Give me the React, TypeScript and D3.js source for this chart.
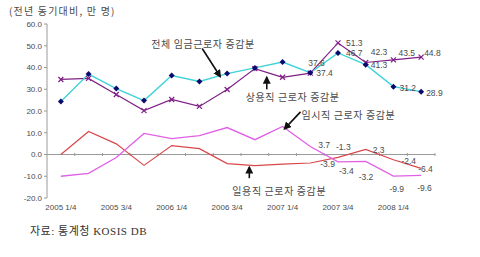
import * as React from "react";
import * as d3 from "d3";

// quarterly change vs. same quarter of previous year (10k persons)
const quarters = [
  "2005 1/4", "2005 2/4", "2005 3/4", "2005 4/4",
  "2006 1/4", "2006 2/4", "2006 3/4", "2006 4/4",
  "2007 1/4", "2007 2/4", "2007 3/4", "2007 4/4",
  "2008 1/4", "2008 2/4",
];
const totalWage = [24.4, 37.0, 30.3, 24.8, 36.3, 33.6, 37.2, 39.8, 42.5, 37.6, 46.7, 41.3, 31.2, 28.9];
const regular = [34.5, 35.0, 27.6, 20.2, 25.3, 22.1, 29.9, 39.5, 35.5, 37.4, 51.3, 42.3, 43.5, 44.8];
const temporary = [-10.0, -8.7, -1.4, 9.7, 7.3, 8.7, 12.4, 6.8, 12.9, 3.7, -3.4, -3.2, -9.9, -9.6];
const daily = [0.0, 10.6, 4.9, -5.0, 4.1, 2.7, -4.2, -5.1, -4.4, -3.9, -1.3, 2.3, -2.4, -6.4];

const xTickLabels = ["2005 1/4", "2005 3/4", "2006 1/4", "2006 3/4", "2007 1/4", "2007 3/4", "2008 1/4"];
const yTickValues = [-20, -10, 0, 10, 20, 30, 40, 50, 60];

// value labels on the last five quarters: [index, dx, dy]
const totalLabelOffsets: [number, number, number][] = [[9, -2, -7], [10, 8, 3], [11, 5, 3], [12, 6, 4], [13, 5, 4]];
const regularLabelOffsets: [number, number, number][] = [[9, 6, 3], [10, 8, 3], [11, 5, -7], [12, 5, -4], [13, 3, -1]];
const temporaryLabelOffsets: [number, number, number][] = [[9, 8, 2], [10, 1, 12], [11, -7, 19], [12, -4, 16], [13, -4, 16]];
const dailyLabelOffsets: [number, number, number][] = [[9, 10, 4], [10, -2, -7], [11, 7, 4], [12, 8, 4], [13, -3, 4]];

const W = 480;
const H = 257;
const NUM_FONT = "'Liberation Sans', 'Noto Sans CJK KR', sans-serif";
const KR_FONT = "'Noto Sans CJK KR', sans-serif";

const COLORS = {
  total: "#3fd3d8",
  totalMarker: "#0a0a6e",
  regular: "#7f1f86",
  temporary: "#e060e6",
  daily: "#d9474a",
  axis: "#9a9a9a",
  text: "#4a4a4a",
};

export default function App() {
  const x = d3.scaleBand<string>().domain(quarters).range([47, 435]).padding(0);
  const cx = (i: number) => (x(quarters[i]) ?? 0) + x.bandwidth() / 2;
  const y = d3.scaleLinear().domain([-20, 60]).range([198, 24]);

  const line = d3
    .line<number>()
    .x((_, i) => cx(i))
    .y((v) => y(v));

  // point on a series at a fractional index, for annotation arrows
  const along = (vals: number[], t: number) => {
    const i = Math.floor(t);
    const f = t - i;
    const v = vals[i] + (vals[Math.min(i + 1, vals.length - 1)] - vals[i]) * f;
    return { px: cx(i) + f * x.bandwidth(), py: y(v) };
  };

  const annotations = [
    { text: "전체 임금근로자 증감분", vals: totalWage, t: 5.75, tipDy: 1, tail: [-18, -28], tx: -69, ty: -29 },
    { text: "상용직 근로자 증감분", vals: regular, t: 7.43, tipDy: 5, tail: [0, 12], tx: -21, ty: 24 },
    { text: "임시직 근로자 증감분", vals: temporary, t: 8.07, tipDy: 1, tail: [16, -17], tx: 17, ty: -10 },
    { text: "일용직 근로자 증감분", vals: daily, t: 6.8, tipDy: 2, tail: [0, 11], tx: -17, ty: 28 },
  ];

  const zeroY = y(0);
  const [x0, x1] = x.range();

  const valueLabels = (vals: number[], offs: [number, number, number][], key: string) =>
    offs.map(([i, dx, dy]) => (
      <text
        key={`${key}-${i}`}
        x={cx(i) + dx}
        y={y(vals[i]) + dy}
        fontFamily={NUM_FONT}
        fontSize={8.5}
        fill={COLORS.text}
      >
        {vals[i].toFixed(1)}
      </text>
    ));

  return (
    <svg
      width={W}
      height={H}
      style={{ position: "absolute", left: 0, top: 0, background: "#fff" }}
    >
      <defs>
        <marker id="arrowHead" viewBox="0 0 10 10" refX="8" refY="5" markerWidth="5" markerHeight="5" orient="auto">
          <path d="M0,0 L10,5 L0,10 z" fill="#111" />
        </marker>
      </defs>

      {/* unit caption */}
      <text x={9} y={15} fontFamily={KR_FONT} fontSize={10} fill={COLORS.text} letterSpacing={1.2}>
        (전년 동기대비, 만 명)
      </text>

      {/* y axis */}
      <line x1={x0} x2={x0} y1={y(60)} y2={y(-20)} stroke={COLORS.axis} strokeWidth={1} />
      {yTickValues.map((t) => (
        <g key={`yt-${t}`}>
          <line x1={x0 - 3} x2={x0} y1={y(t)} y2={y(t)} stroke={COLORS.axis} />
          <text
            x={42}
            y={y(t)}
            dy="0.35em"
            textAnchor="end"
            fontFamily={NUM_FONT}
            fontSize={8}
            fill={COLORS.text}
          >
            {t.toFixed(1)}
          </text>
        </g>
      ))}

      {/* zero line with quarter ticks */}
      <line x1={x0} x2={x1} y1={zeroY} y2={zeroY} stroke={COLORS.axis} strokeWidth={1.2} />
      {quarters.slice(1).map((q) => (
        <line
          key={`xt-${q}`}
          x1={x(q)}
          x2={x(q)}
          y1={zeroY - 1.5}
          y2={zeroY + 1.5}
          stroke={COLORS.axis}
        />
      ))}
      <line x1={x1} x2={x1} y1={zeroY - 1.5} y2={zeroY + 1.5} stroke={COLORS.axis} />

      {xTickLabels.map((lab) => (
        <text
          key={`xl-${lab}`}
          x={cx(quarters.indexOf(lab))}
          y={210}
          textAnchor="middle"
          fontFamily={NUM_FONT}
          fontSize={8}
          fill={COLORS.text}
        >
          {lab}
        </text>
      ))}

      {/* series lines */}
      <path d={line(daily) ?? ""} fill="none" stroke={COLORS.daily} strokeWidth={1.2} />
      <path d={line(temporary) ?? ""} fill="none" stroke={COLORS.temporary} strokeWidth={1.3} />
      <path d={line(regular) ?? ""} fill="none" stroke={COLORS.regular} strokeWidth={1.2} />
      <path d={line(totalWage) ?? ""} fill="none" stroke={COLORS.total} strokeWidth={1.4} />

      {/* markers */}
      {regular.map((v, i) => (
        <path
          key={`rm-${i}`}
          d={`M${cx(i) - 2.5},${y(v) - 2.5}L${cx(i) + 2.5},${y(v) + 2.5}M${cx(i) - 2.5},${y(v) + 2.5}L${cx(i) + 2.5},${y(v) - 2.5}`}
          stroke={COLORS.regular}
          strokeWidth={1.2}
        />
      ))}
      {totalWage.map((v, i) => (
        <path
          key={`tm-${i}`}
          d={`M${cx(i)},${y(v) - 3}L${cx(i) + 3},${y(v)}L${cx(i)},${y(v) + 3}L${cx(i) - 3},${y(v)}Z`}
          fill={COLORS.totalMarker}
        />
      ))}

      {/* value labels */}
      {valueLabels(totalWage, totalLabelOffsets, "tl")}
      {valueLabels(regular, regularLabelOffsets, "rl")}
      {valueLabels(temporary, temporaryLabelOffsets, "pl")}
      {valueLabels(daily, dailyLabelOffsets, "dl")}

      {/* series annotations */}
      {annotations.map((a) => {
        const p = along(a.vals, a.t);
        const tipX = p.px;
        const tipY = p.py + a.tipDy;
        return (
          <g key={a.text}>
            <line
              x1={tipX + a.tail[0]}
              y1={tipY + a.tail[1]}
              x2={tipX}
              y2={tipY}
              stroke="#111"
              strokeWidth={1.6}
              markerEnd="url(#arrowHead)"
            />
            <text x={tipX + a.tx} y={tipY + a.ty} fontFamily={KR_FONT} fontSize={10} fill={COLORS.text} letterSpacing={0.6}>
              {a.text}
            </text>
          </g>
        );
      })}

      {/* source */}
      <text x={30} y={235} fontFamily="'Liberation Serif', 'Noto Sans CJK KR', serif" fontSize={11} fill="#333" letterSpacing={0.5}>
        자료: 통계청 KOSIS DB
      </text>
    </svg>
  );
}
